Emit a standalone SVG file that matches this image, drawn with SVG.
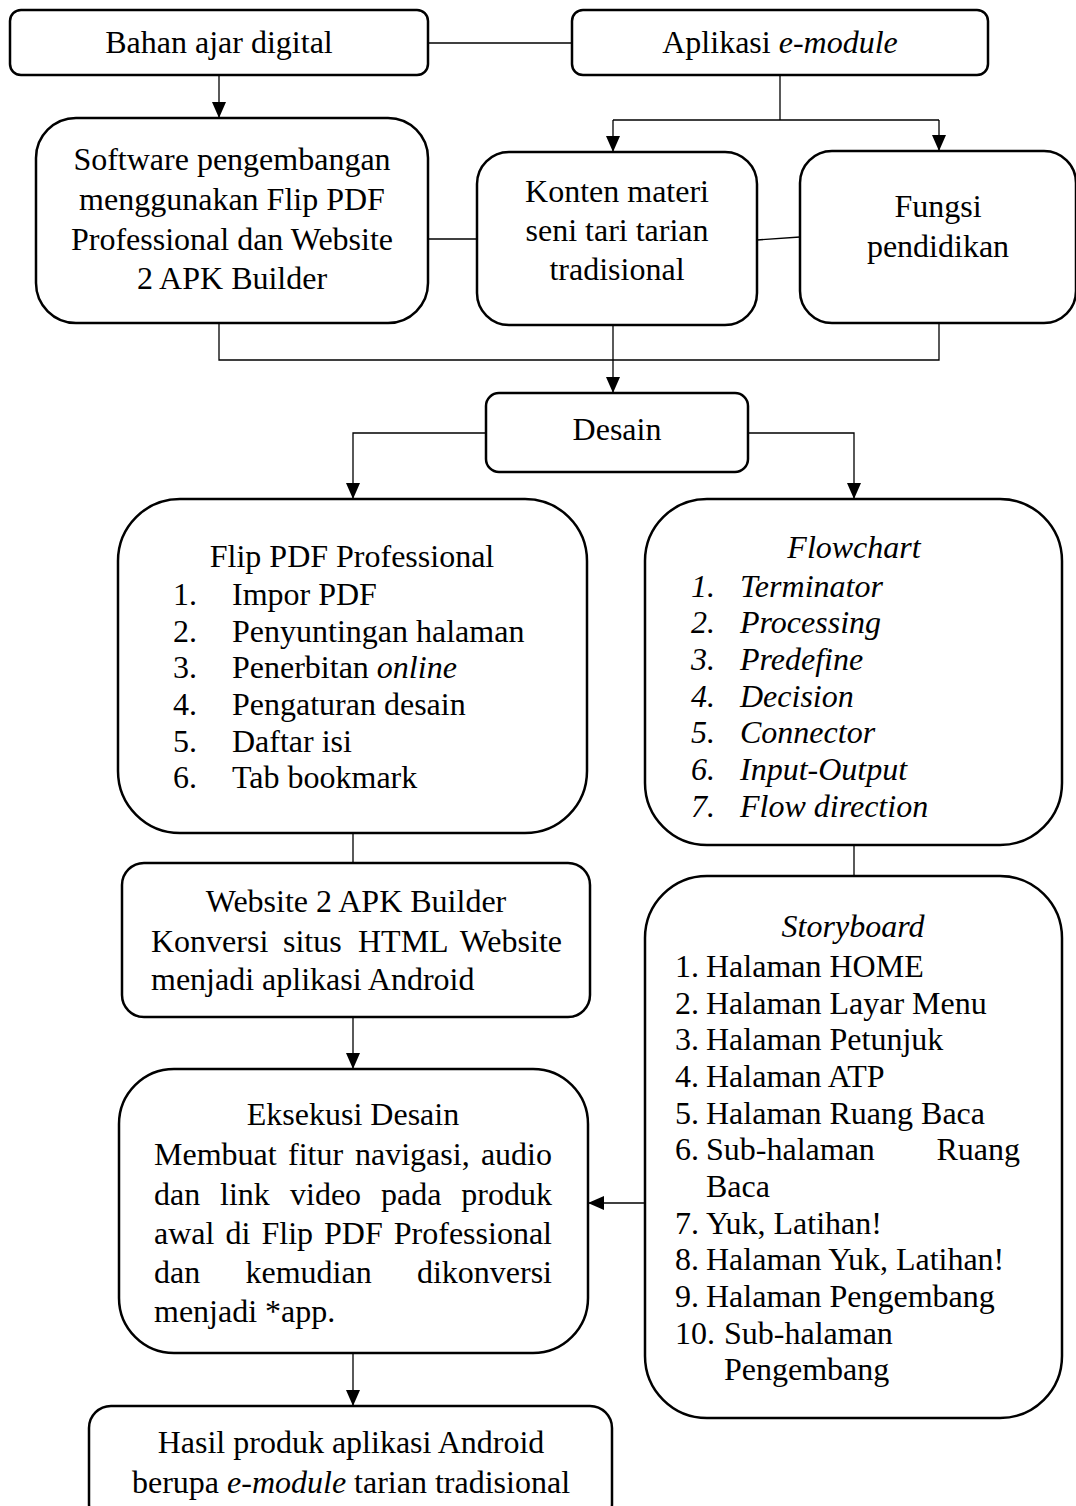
<svg xmlns="http://www.w3.org/2000/svg" width="1076" height="1506" viewBox="0 0 1076 1506">
<style>
.box{fill:#fff;stroke:#000;stroke-width:2.5}
.ln{fill:none;stroke:#000;stroke-width:1.3}
text{font-family:"Liberation Serif","Times New Roman",serif;font-size:32px;fill:#000}
.c{text-anchor:middle}
.e{text-anchor:end}
.i{font-style:italic}
</style>
<defs>
<marker id="ah" markerUnits="userSpaceOnUse" markerWidth="16" markerHeight="14" viewBox="0 0 16 14" refX="16" refY="7" orient="auto">
<path d="M0,0 L16,7 L0,14 z" fill="#000"/>
</marker>
</defs>
<rect width="1076" height="1506" fill="#fff"/>

<g id="connectors">
<line class="ln" x1="428" y1="43" x2="572" y2="43"/>
<line class="ln" x1="219" y1="75" x2="219" y2="118" marker-end="url(#ah)"/>
<polyline class="ln" points="780,75 780,120"/>
<polyline class="ln" points="613,120 939,120"/>
<line class="ln" x1="613" y1="120" x2="613" y2="152" marker-end="url(#ah)"/>
<line class="ln" x1="939" y1="120" x2="939" y2="151" marker-end="url(#ah)"/>
<line class="ln" x1="428" y1="239" x2="477" y2="239"/>
<line class="ln" x1="757" y1="240" x2="800" y2="237"/>
<polyline class="ln" points="219,323 219,360 939,360 939,323"/>
<line class="ln" x1="613" y1="325" x2="613" y2="393" marker-end="url(#ah)"/>
<polyline class="ln" points="486,433 353,433 353,499" marker-end="url(#ah)"/>
<polyline class="ln" points="748,433 854,433 854,499" marker-end="url(#ah)"/>
<line class="ln" x1="353" y1="833" x2="353" y2="863"/>
<line class="ln" x1="854" y1="845" x2="854" y2="876"/>
<line class="ln" x1="353" y1="1017" x2="353" y2="1069" marker-end="url(#ah)"/>
<line class="ln" x1="353" y1="1353" x2="353" y2="1406" marker-end="url(#ah)"/>
<line class="ln" x1="645" y1="1203" x2="588" y2="1203" marker-end="url(#ah)"/>
</g>

<g id="n-bahan">
<rect class="box" x="10" y="10" width="418" height="65" rx="11"/>
<text class="c" x="219" y="53">Bahan ajar digital</text>
</g>

<g id="n-aplikasi">
<rect class="box" x="572" y="10" width="416" height="65" rx="11"/>
<text class="c" x="780" y="53">Aplikasi <tspan class="i">e-module</tspan></text>
</g>

<g id="n-software">
<rect class="box" x="36" y="118" width="392" height="205" rx="40"/>
<text class="c" x="232" y="170">Software pengembangan</text>
<text class="c" x="232" y="210">menggunakan Flip PDF</text>
<text class="c" x="232" y="250">Professional dan Website</text>
<text class="c" x="232" y="289">2 APK Builder</text>
</g>

<g id="n-konten">
<rect class="box" x="477" y="152" width="280" height="173" rx="32"/>
<text class="c" x="617" y="202">Konten materi</text>
<text class="c" x="617" y="241">seni tari tarian</text>
<text class="c" x="617" y="280">tradisional</text>
</g>

<g id="n-fungsi">
<rect class="box" x="800" y="151" width="276" height="172" rx="32"/>
<text class="c" x="938" y="217">Fungsi</text>
<text class="c" x="938" y="257">pendidikan</text>
</g>

<g id="n-desain">
<rect class="box" x="486" y="393" width="262" height="79" rx="13"/>
<text class="c" x="617" y="440">Desain</text>
</g>

<g id="n-flip">
<rect class="box" x="118" y="499" width="469" height="334" rx="62"/>
<text class="c" x="352" y="567">Flip PDF Professional</text>
<text x="173" y="605">1.</text><text x="232" y="605">Impor PDF</text>
<text x="173" y="642">2.</text><text x="232" y="642">Penyuntingan halaman</text>
<text x="173" y="678">3.</text><text x="232" y="678">Penerbitan <tspan class="i">online</tspan></text>
<text x="173" y="715">4.</text><text x="232" y="715">Pengaturan desain</text>
<text x="173" y="752">5.</text><text x="232" y="752">Daftar isi</text>
<text x="173" y="788">6.</text><text x="232" y="788">Tab bookmark</text>
</g>

<g id="n-flowchart">
<rect class="box" x="645" y="499" width="417" height="346" rx="62"/>
<text class="c i" x="854" y="558">Flowchart</text>
<text class="i" x="691" y="597">1.</text><text class="i" x="740" y="597">Terminator</text>
<text class="i" x="691" y="633">2.</text><text class="i" x="740" y="633">Processing</text>
<text class="i" x="691" y="670">3.</text><text class="i" x="740" y="670">Predefine</text>
<text class="i" x="691" y="707">4.</text><text class="i" x="740" y="707">Decision</text>
<text class="i" x="691" y="743">5.</text><text class="i" x="740" y="743">Connector</text>
<text class="i" x="691" y="780">6.</text><text class="i" x="740" y="780">Input-Output</text>
<text class="i" x="691" y="817">7.</text><text class="i" x="740" y="817">Flow direction</text>
</g>

<g id="n-website">
<rect class="box" x="122" y="863" width="468" height="154" rx="22"/>
<text class="c" x="356" y="912">Website 2 APK Builder</text>
<text x="151" y="952">Konversi</text>
<text x="283" y="952">situs</text>
<text x="358" y="952">HTML</text>
<text class="e" x="562" y="952">Website</text>
<text x="151" y="990">menjadi aplikasi Android</text>
</g>

<g id="n-storyboard">
<rect class="box" x="645" y="876" width="417" height="542" rx="62"/>
<text class="c i" x="853" y="937">Storyboard</text>
<text x="675" y="977">1.</text><text x="706" y="977">Halaman HOME</text>
<text x="675" y="1014">2.</text><text x="706" y="1014">Halaman Layar Menu</text>
<text x="675" y="1050">3.</text><text x="706" y="1050">Halaman Petunjuk</text>
<text x="675" y="1087">4.</text><text x="706" y="1087">Halaman ATP</text>
<text x="675" y="1124">5.</text><text x="706" y="1124">Halaman Ruang Baca</text>
<text x="675" y="1160">6.</text><text x="706" y="1160">Sub-halaman</text><text class="e" x="1020" y="1160">Ruang</text>
<text x="706" y="1197">Baca</text>
<text x="675" y="1234">7.</text><text x="706" y="1234">Yuk, Latihan!</text>
<text x="675" y="1270">8.</text><text x="706" y="1270">Halaman Yuk, Latihan!</text>
<text x="675" y="1307">9.</text><text x="706" y="1307">Halaman Pengembang</text>
<text x="675" y="1344">10.</text><text x="724" y="1344">Sub-halaman</text>
<text x="724" y="1380">Pengembang</text>
</g>

<g id="n-eksekusi">
<rect class="box" x="119" y="1069" width="469" height="284" rx="55"/>
<text class="c" x="353" y="1125">Eksekusi Desain</text>
<text x="154" y="1165">Membuat</text><text x="288" y="1165">fitur</text><text x="355" y="1165">navigasi,</text><text class="e" x="552" y="1165">audio</text>
<text x="154" y="1205">dan</text><text x="220" y="1205">link</text><text x="290" y="1205">video</text><text x="381" y="1205">pada</text><text class="e" x="552" y="1205">produk</text>
<text x="154" y="1244">awal</text><text x="225.5" y="1244">di</text><text x="261.5" y="1244">Flip</text><text x="324" y="1244">PDF</text><text class="e" x="552" y="1244">Professional</text>
<text x="154" y="1283">dan</text><text x="245.5" y="1283">kemudian</text><text class="e" x="552" y="1283">dikonversi</text>
<text x="154" y="1322">menjadi *app.</text>
</g>

<g id="n-hasil">
<rect class="box" x="89" y="1406" width="523" height="120" rx="22"/>
<text class="c" x="351" y="1453">Hasil produk aplikasi Android</text>
<text class="c" x="351" y="1493">berupa <tspan class="i">e-module</tspan> tarian tradisional</text>
</g>
</svg>
